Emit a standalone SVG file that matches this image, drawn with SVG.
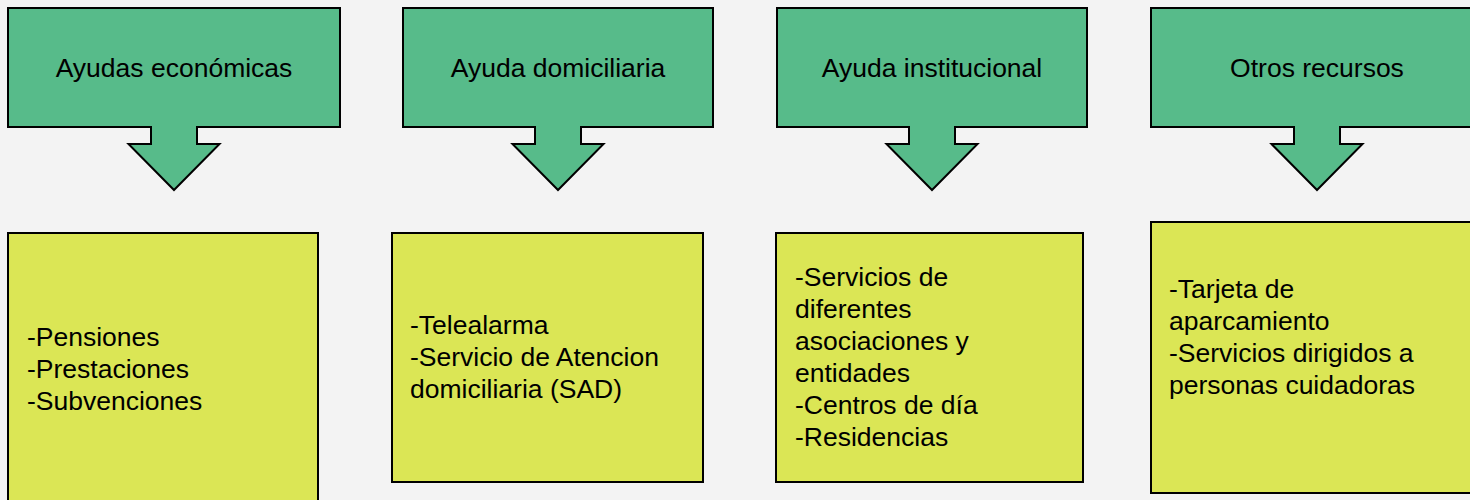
<svg xmlns="http://www.w3.org/2000/svg" width="1470" height="500" viewBox="0 0 1470 500">
<style>
.callout{fill:#57bb8a;stroke:#000;stroke-width:2;stroke-linejoin:miter}
.box{fill:#dbe655;stroke:#000;stroke-width:2}
text{font-family:"Liberation Sans",Arial,sans-serif;font-size:26.5px;fill:#000}
.t{text-anchor:middle}
</style>
<rect width="1470" height="500" fill="#f3f3f3"/>
<g id="callout-economicas">
<path class="callout" d="M8 8 H340 V127 H197 V144 H219.5 L174 190 L128.5 144 H151 V127 H8 Z"/>
<text class="t" x="174" y="77">Ayudas económicas</text>
</g>
<g id="callout-domiciliaria">
<path class="callout" d="M403 8 H713 V127 H581 V144 H603.5 L558 190 L512.5 144 H535 V127 H403 Z"/>
<text class="t" x="558" y="77">Ayuda domiciliaria</text>
</g>
<g id="callout-institucional">
<path class="callout" d="M777 8 H1087 V127 H955 V144 H977.5 L932 190 L886.5 144 H909 V127 H777 Z"/>
<text class="t" x="932" y="77">Ayuda institucional</text>
</g>
<g id="callout-otros">
<path class="callout" d="M1151 8 H1482 V127 H1340 V144 H1362.5 L1317 190 L1271.5 144 H1294 V127 H1151 Z"/>
<text class="t" x="1317" y="77">Otros recursos</text>
</g>
<g id="box-economicas">
<rect class="box" x="8" y="233" width="310" height="290"/>
<text x="27" y="346">-Pensiones</text>
<text x="27" y="378">-Prestaciones</text>
<text x="27" y="410">-Subvenciones</text>
</g>
<g id="box-domiciliaria">
<rect class="box" x="392" y="233" width="311" height="249"/>
<text x="410" y="334">-Telealarma</text>
<text x="410" y="366">-Servicio de Atencion</text>
<text x="410" y="398">domiciliaria (SAD)</text>
</g>
<g id="box-institucional">
<rect class="box" x="776" y="233" width="307" height="249"/>
<text x="795" y="286">-Servicios de</text>
<text x="795" y="318">diferentes</text>
<text x="795" y="350">asociaciones y</text>
<text x="795" y="382">entidades</text>
<text x="795" y="414">-Centros de día</text>
<text x="795" y="446">-Residencias</text>
</g>
<g id="box-otros">
<rect class="box" x="1151" y="222" width="330" height="271"/>
<text x="1169" y="298">-Tarjeta de</text>
<text x="1169" y="330">aparcamiento</text>
<text x="1169" y="362">-Servicios dirigidos a</text>
<text x="1169" y="394">personas cuidadoras</text>
</g>
<g id="connectors"></g>
</svg>
